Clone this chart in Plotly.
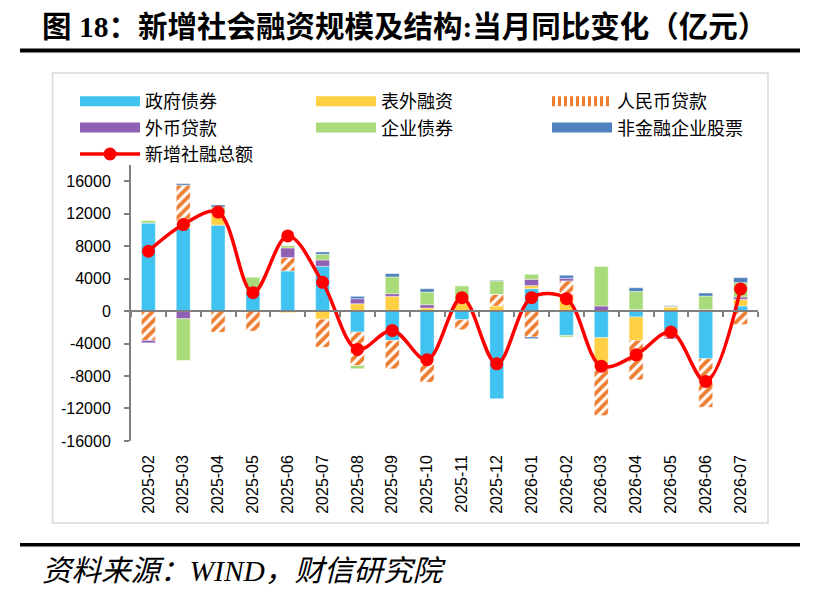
import plotly.graph_objects as go

# 月份
months = ["2025-02", "2025-03", "2025-04", "2025-05", "2025-06", "2025-07",
          "2025-08", "2025-09", "2025-10", "2025-11", "2025-12", "2026-01",
          "2026-02", "2026-03", "2026-04", "2026-05", "2026-06", "2026-07"]

# 各分项同比变化（亿元）
gov_bond = [10860, 10250, 10580, 2350, 4940, 5510, -2590, -3620, -5880, -1070,
            -10800, 2760, -3000, -3290, -740, -2390, -5880, 620]
off_bs = [0, 0, 1440, 0, -200, -1000, 900, 1810, 370, 990,
          620, 370, 1730, -3000, -2880, 490, 0, 820]
rmb_loan = [-3620, 5250, -2600, -2470, 1650, -3460, -4120, -3500, -2880, -1230,
            1440, -3200, 1980, -6580, -4860, -900, -5970, -1650]
fx_loan = [-300, -950, 200, 0, 1190, 780, 620, 330, 410, 150,
           0, 780, 330, 620, 200, -150, 200, 290]
corp_bond = [330, -5140, 600, 1850, 330, 700, -400, 2060, 1560, 1980,
             1650, 620, -200, 4900, 2220, 100, 1650, 1770]
equity = [0, 200, 250, 0, 0, 290, 290, 410, 410, 0,
          80, -200, 370, 0, 450, 80, 370, 620]
total = [7370, 10660, 12200, 2260, 9260, 3540, -4730, -2390, -6000, 1650,
         -6500, 1650, 1520, -6790, -5390, -2590, -8680, 2720]

y_ticks = [-16000, -12000, -8000, -4000, 0, 4000, 8000, 12000, 16000]
y_tick_text = ["-16000", "-12000", "-8000", "-4000", "0", "4000", "8000", "12000", "16000"]

W, H = 816, 594
SY = 603 / 594  # 截图纵向会被压缩一点，这里预先放大


def py(y):
    # 像素 y（自上而下）转成 paper 坐标
    return 1 - y * SY / H


y_min, y_max = -16000, 18000
dom_y = [py(441), py(165)]
zero_pos = dom_y[0] + (0 - y_min) / (y_max - y_min) * (dom_y[1] - dom_y[0])

bar_line = dict(width=0.6, color="rgba(255,255,255,0.7)")
orange = "#ED7D31"

series = [
    ("政府债券", gov_bond, "#41C3F1"),
    ("表外融资", off_bs, "#FFD044"),
    ("人民币贷款", rmb_loan, None),
    ("外币贷款", fx_loan, "#9060B4"),
    ("企业债券", corp_bond, "#AADB7A"),
    ("非金融企业股票", equity, "#4F81BD"),
]

fig = go.Figure()
for name, vals, col in series:
    if col is None:
        mk = dict(color="white", line=bar_line,
                  pattern=dict(shape="/", fgcolor=orange, fgopacity=1, fillmode="overlay",
                               size=7, solidity=0.55))
    else:
        mk = dict(color=col, line=bar_line)
    fig.add_trace(go.Bar(x=months, y=vals, name=name, marker=mk, showlegend=False))

# 图例用的宽色块（Excel 风格）
for name, vals, col in series:
    if col is None:
        ln = dict(color=orange, width=12, dash="3px,3px")
    else:
        ln = dict(color=col, width=12)
    fig.add_trace(go.Scatter(x=[None], y=[None], name=name, mode="lines", line=ln,
                             hoverinfo="skip"))

fig.add_trace(go.Scatter(x=months, y=total, name="新增社融总额", mode="lines+markers",
                         line=dict(color="#FF0000", width=3.5, shape="spline", smoothing=1),
                         marker=dict(color="#FF0000", size=13)))
# 零轴（带刻度）用的空轨迹
fig.add_trace(go.Scatter(x=months, y=[None] * len(months), xaxis="x2",
                         showlegend=False, hoverinfo="skip"))

axis_grey = "#808080"
fig.update_layout(
    width=W, height=H,
    margin=dict(l=0, r=0, t=0, b=0),
    paper_bgcolor="white", plot_bgcolor="white",
    barmode="relative", bargap=0.6,
    font=dict(family="Liberation Sans, Arial, Noto Sans CJK SC", size=16, color="black"),
    showlegend=True,
    legend=dict(orientation="h", x=75 / W, y=py(83), xanchor="left", yanchor="top",
                traceorder="normal", entrywidth=161, itemwidth=60,
                font=dict(family="Noto Sans CJK SC", size=18, color="black"),
                bgcolor="rgba(0,0,0,0)"),
    xaxis=dict(domain=[131 / W, 758 / W], type="category", categoryorder="array",
               categoryarray=months, range=[-0.5, 17.5], showline=False, ticks="",
               tickangle=-90, tickfont=dict(size=16), ticklabelstandoff=10,
               showgrid=False, zeroline=False),
    xaxis2=dict(overlaying="x", anchor="free", position=zero_pos, type="category",
                categoryorder="array", categoryarray=months, range=[-0.5, 17.5],
                showline=True, linecolor=axis_grey, linewidth=2,
                ticks="outside", tickson="boundaries", ticklen=5, tickwidth=1.5,
                tickcolor=axis_grey, showticklabels=False, showgrid=False, zeroline=False),
    yaxis=dict(domain=dom_y, range=[y_min, y_max], tickvals=y_ticks, ticktext=y_tick_text,
               showline=True, linecolor=axis_grey, linewidth=2,
               ticks="outside", ticklen=5, tickwidth=1.5, tickcolor=axis_grey,
               tickfont=dict(size=16), ticklabelstandoff=10,
               showgrid=False, zeroline=False),
)

# 外框与标题、来源的分隔线
fig.add_shape(type="rect", xref="paper", yref="paper",
              x0=52.5 / W, x1=768 / W, y0=py(523), y1=py(73),
              line=dict(color="#D9D9D9", width=1.5), layer="below")
fig.add_shape(type="line", xref="paper", yref="paper",
              x0=20 / W, x1=800 / W, y0=py(50.5), y1=py(50.5),
              line=dict(color="black", width=4))
fig.add_shape(type="line", xref="paper", yref="paper",
              x0=20 / W, x1=800 / W, y0=py(545), y1=py(545),
              line=dict(color="black", width=3.5))

fig.add_annotation(text="<b>图 18：新增社会融资规模及结构:当月同比变化（亿元）</b>",
                   xref="paper", yref="paper", x=40 / W, y=py(27),
                   xanchor="left", yanchor="middle", showarrow=False,
                   font=dict(family="Liberation Serif, Noto Sans CJK SC", size=29.5, color="black"))
fig.add_annotation(text="<i>资料来源：WIND，财信研究院</i>",
                   xref="paper", yref="paper", x=40 / W, y=py(571),
                   xanchor="left", yanchor="middle", showarrow=False,
                   font=dict(family="Liberation Serif, Noto Sans CJK SC", size=29.5, color="black"))

fig.write_html(
    "out.html",
    config={"displayModeBar": False},
    post_script=("document.documentElement.style.margin='0';"
                 "document.body.style.margin='0';"
                 "document.body.style.overflow='hidden';"
                 "document.documentElement.style.overflow='hidden';"),
)
